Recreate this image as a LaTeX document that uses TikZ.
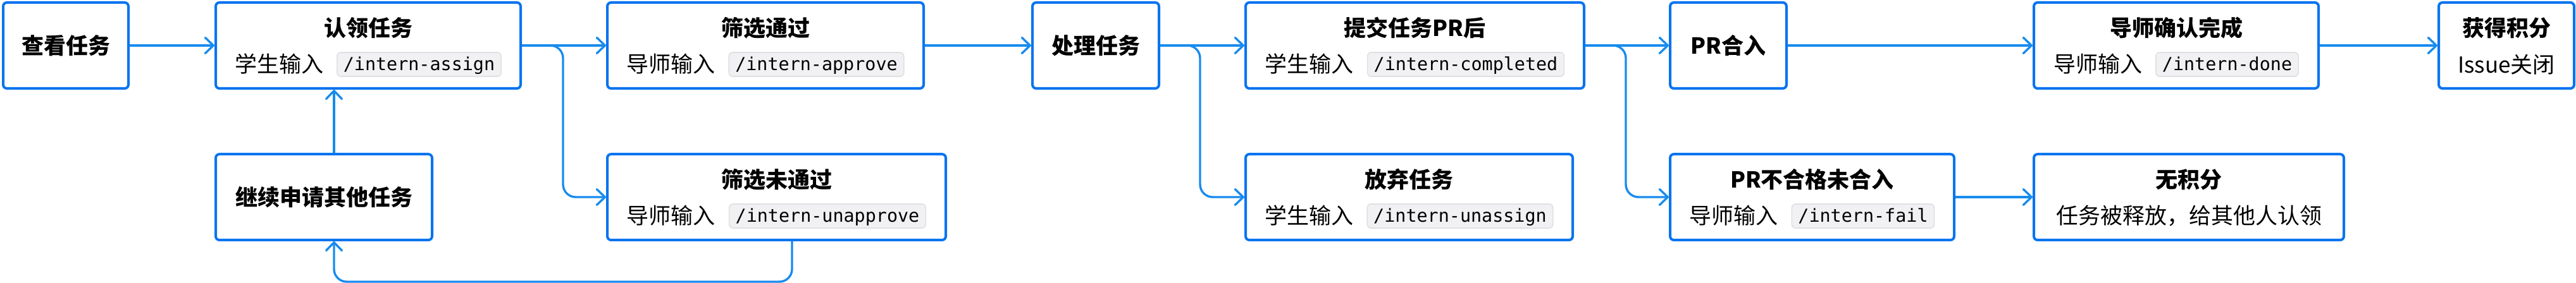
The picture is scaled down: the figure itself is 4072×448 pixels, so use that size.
\documentclass[tikz,border=0pt]{standalone}
\usepackage{fontspec}
\setmainfont{Noto Sans CJK SC}
\newfontfamily\codefont{DejaVu Sans Mono}
\usetikzlibrary{arrows.meta}
\definecolor{boxblue}{RGB}{8,116,240}
\definecolor{arrblue}{RGB}{24,140,238}
\definecolor{chipbg}{RGB}{241,241,244}
\definecolor{chipline}{RGB}{224,224,228}
\newcommand\chip[1]{\tikz[baseline={([yshift=-6.5pt]chipnode.center)}]\node[chipbox](chipnode){#1};}
\tikzset{
  box/.style={draw=boxblue, line width=2pt, rounded corners=3pt, fill=white, inner sep=0pt, minimum height=68pt},
  ttl/.style={font=\fontsize{17.5pt}{20pt}\selectfont\bfseries, inner sep=0pt},
  sub/.style={font=\fontsize{17.5pt}{20pt}\selectfont, inner sep=0pt},
  chipbox/.style={fill=chipbg, draw=chipline, line width=0.8pt, rounded corners=3pt,
    font=\fontsize{14.2pt}{16pt}\codefont, inner xsep=5pt, inner ysep=0pt,
    minimum height=19pt, text height=0.72em, text depth=0.2em},
  tipstyle/.style={-{Straight Barb[length=6.5pt,width=12.5pt,round]}},
  flow/.style={draw=arrblue, line width=1.7pt, tipstyle},
  branch/.style={draw=arrblue, line width=1.7pt, rounded corners=10pt, tipstyle},
}
\begin{document}
\begin{tikzpicture}[x=0.5pt,y=-0.5pt]
\useasboundingbox (0,0) rectangle (4072,448);
% boxes
\node[box, minimum width=99pt]    (look)    at (104,72) {};
\node[box, minimum width=241pt]   (claim)   at (582,72) {};
\node[box, minimum width=171pt]   (again)   at (512,312) {};
\node[box, minimum width=250pt]   (pass)    at (1210,72) {};
\node[box, minimum width=267.5pt] (nopass)  at (1227.5,312) {};
\node[box, minimum width=100pt]   (work)    at (1732,72) {};
\node[box, minimum width=267.5pt] (submit)  at (2236.5,72) {};
\node[box, minimum width=258.5pt] (giveup)  at (2227.5,312) {};
\node[box, minimum width=92pt]    (merge)   at (2732,72) {};
\node[box, minimum width=224.5pt] (reject)  at (2864.5,312) {};
\node[box, minimum width=225pt]   (confirm) at (3440,72) {};
\node[box, minimum width=245pt]   (nopts)   at (3460,312) {};
\node[box, minimum width=107pt]   (pts)     at (3962,72) {};
% texts
\node[ttl] (t1) at (look) {查看任务};
\node[ttl] (t2) at ([yshift=14pt]claim.center) {认领任务};
\node[sub] (s2) at ([yshift=-15pt]claim.center) {学生输入\hspace{10.5pt}\chip{/intern-assign}};
\node[ttl] (t3) at (again) {继续申请其他任务};
\node[ttl] (t4) at ([yshift=14pt]pass.center) {筛选通过};
\node[sub] (s4) at ([yshift=-15pt]pass.center) {导师输入\hspace{10.5pt}\chip{/intern-approve}};
\node[ttl] (t5) at ([yshift=14pt]nopass.center) {筛选未通过};
\node[sub] (s5) at ([yshift=-15pt]nopass.center) {导师输入\hspace{10.5pt}\chip{/intern-unapprove}};
\node[ttl] (t6) at (work) {处理任务};
\node[ttl] (t7) at ([yshift=14pt]submit.center) {提交任务PR后};
\node[sub] (s7) at ([yshift=-15pt]submit.center) {学生输入\hspace{10.5pt}\chip{/intern-completed}};
\node[ttl] (t8) at ([yshift=14pt]giveup.center) {放弃任务};
\node[sub] (s8) at ([yshift=-15pt]giveup.center) {学生输入\hspace{10.5pt}\chip{/intern-unassign}};
\node[ttl] (t9) at (merge) {PR合入};
\node[ttl] (t10) at ([yshift=14pt]reject.center) {PR不合格未合入};
\node[sub] (s10) at ([yshift=-15pt]reject.center) {导师输入\hspace{10.5pt}\chip{/intern-fail}};
\node[ttl] (t11) at ([yshift=14pt]confirm.center) {导师确认完成};
\node[sub] (s11) at ([yshift=-15pt]confirm.center) {导师输入\hspace{10.5pt}\chip{/intern-done}};
\node[ttl] (t12) at ([yshift=14pt]nopts.center) {无积分};
\node[sub] (s12) at ([yshift=-15pt]nopts.center) {任务被释放，给其他人认领};
\node[ttl] (t13) at ([yshift=14pt]pts.center) {获得积分};
\node[sub] (s13) at ([yshift=-15pt]pts.center) {Issue关闭};
% helper coordinates
\coordinate (ax) at (528,0);
\coordinate (bx) at (1252,0);
\coordinate (b1) at (890,0);
\coordinate (b2) at (1897,0);
\coordinate (b3) at (2570,0);
\coordinate (low) at (0,446);
% connectors
\draw[flow] (look.east) -- (claim.west);
\draw[flow] (claim.east) -- (pass.west);
\draw[branch] (claim.east) -- (claim.east -| b1) -- (nopass.west -| b1) -- (nopass.west);
\draw[flow] (pass.east) -- (work.west);
\draw[flow] (work.east) -- (submit.west);
\draw[branch] (work.east) -- (work.east -| b2) -- (giveup.west -| b2) -- (giveup.west);
\draw[flow] (submit.east) -- (merge.west);
\draw[branch] (submit.east) -- (submit.east -| b3) -- (reject.west -| b3) -- (reject.west);
\draw[flow] (merge.east) -- (confirm.west);
\draw[flow] (reject.east) -- (nopts.west);
\draw[flow] (confirm.east) -- (pts.west);
\draw[branch] (nopass.south -| bx) -- (low -| bx) -- (low -| ax) -- (again.south -| ax);
\draw[flow] (again.north -| ax) -- (claim.south -| ax);
\end{tikzpicture}
\end{document}
